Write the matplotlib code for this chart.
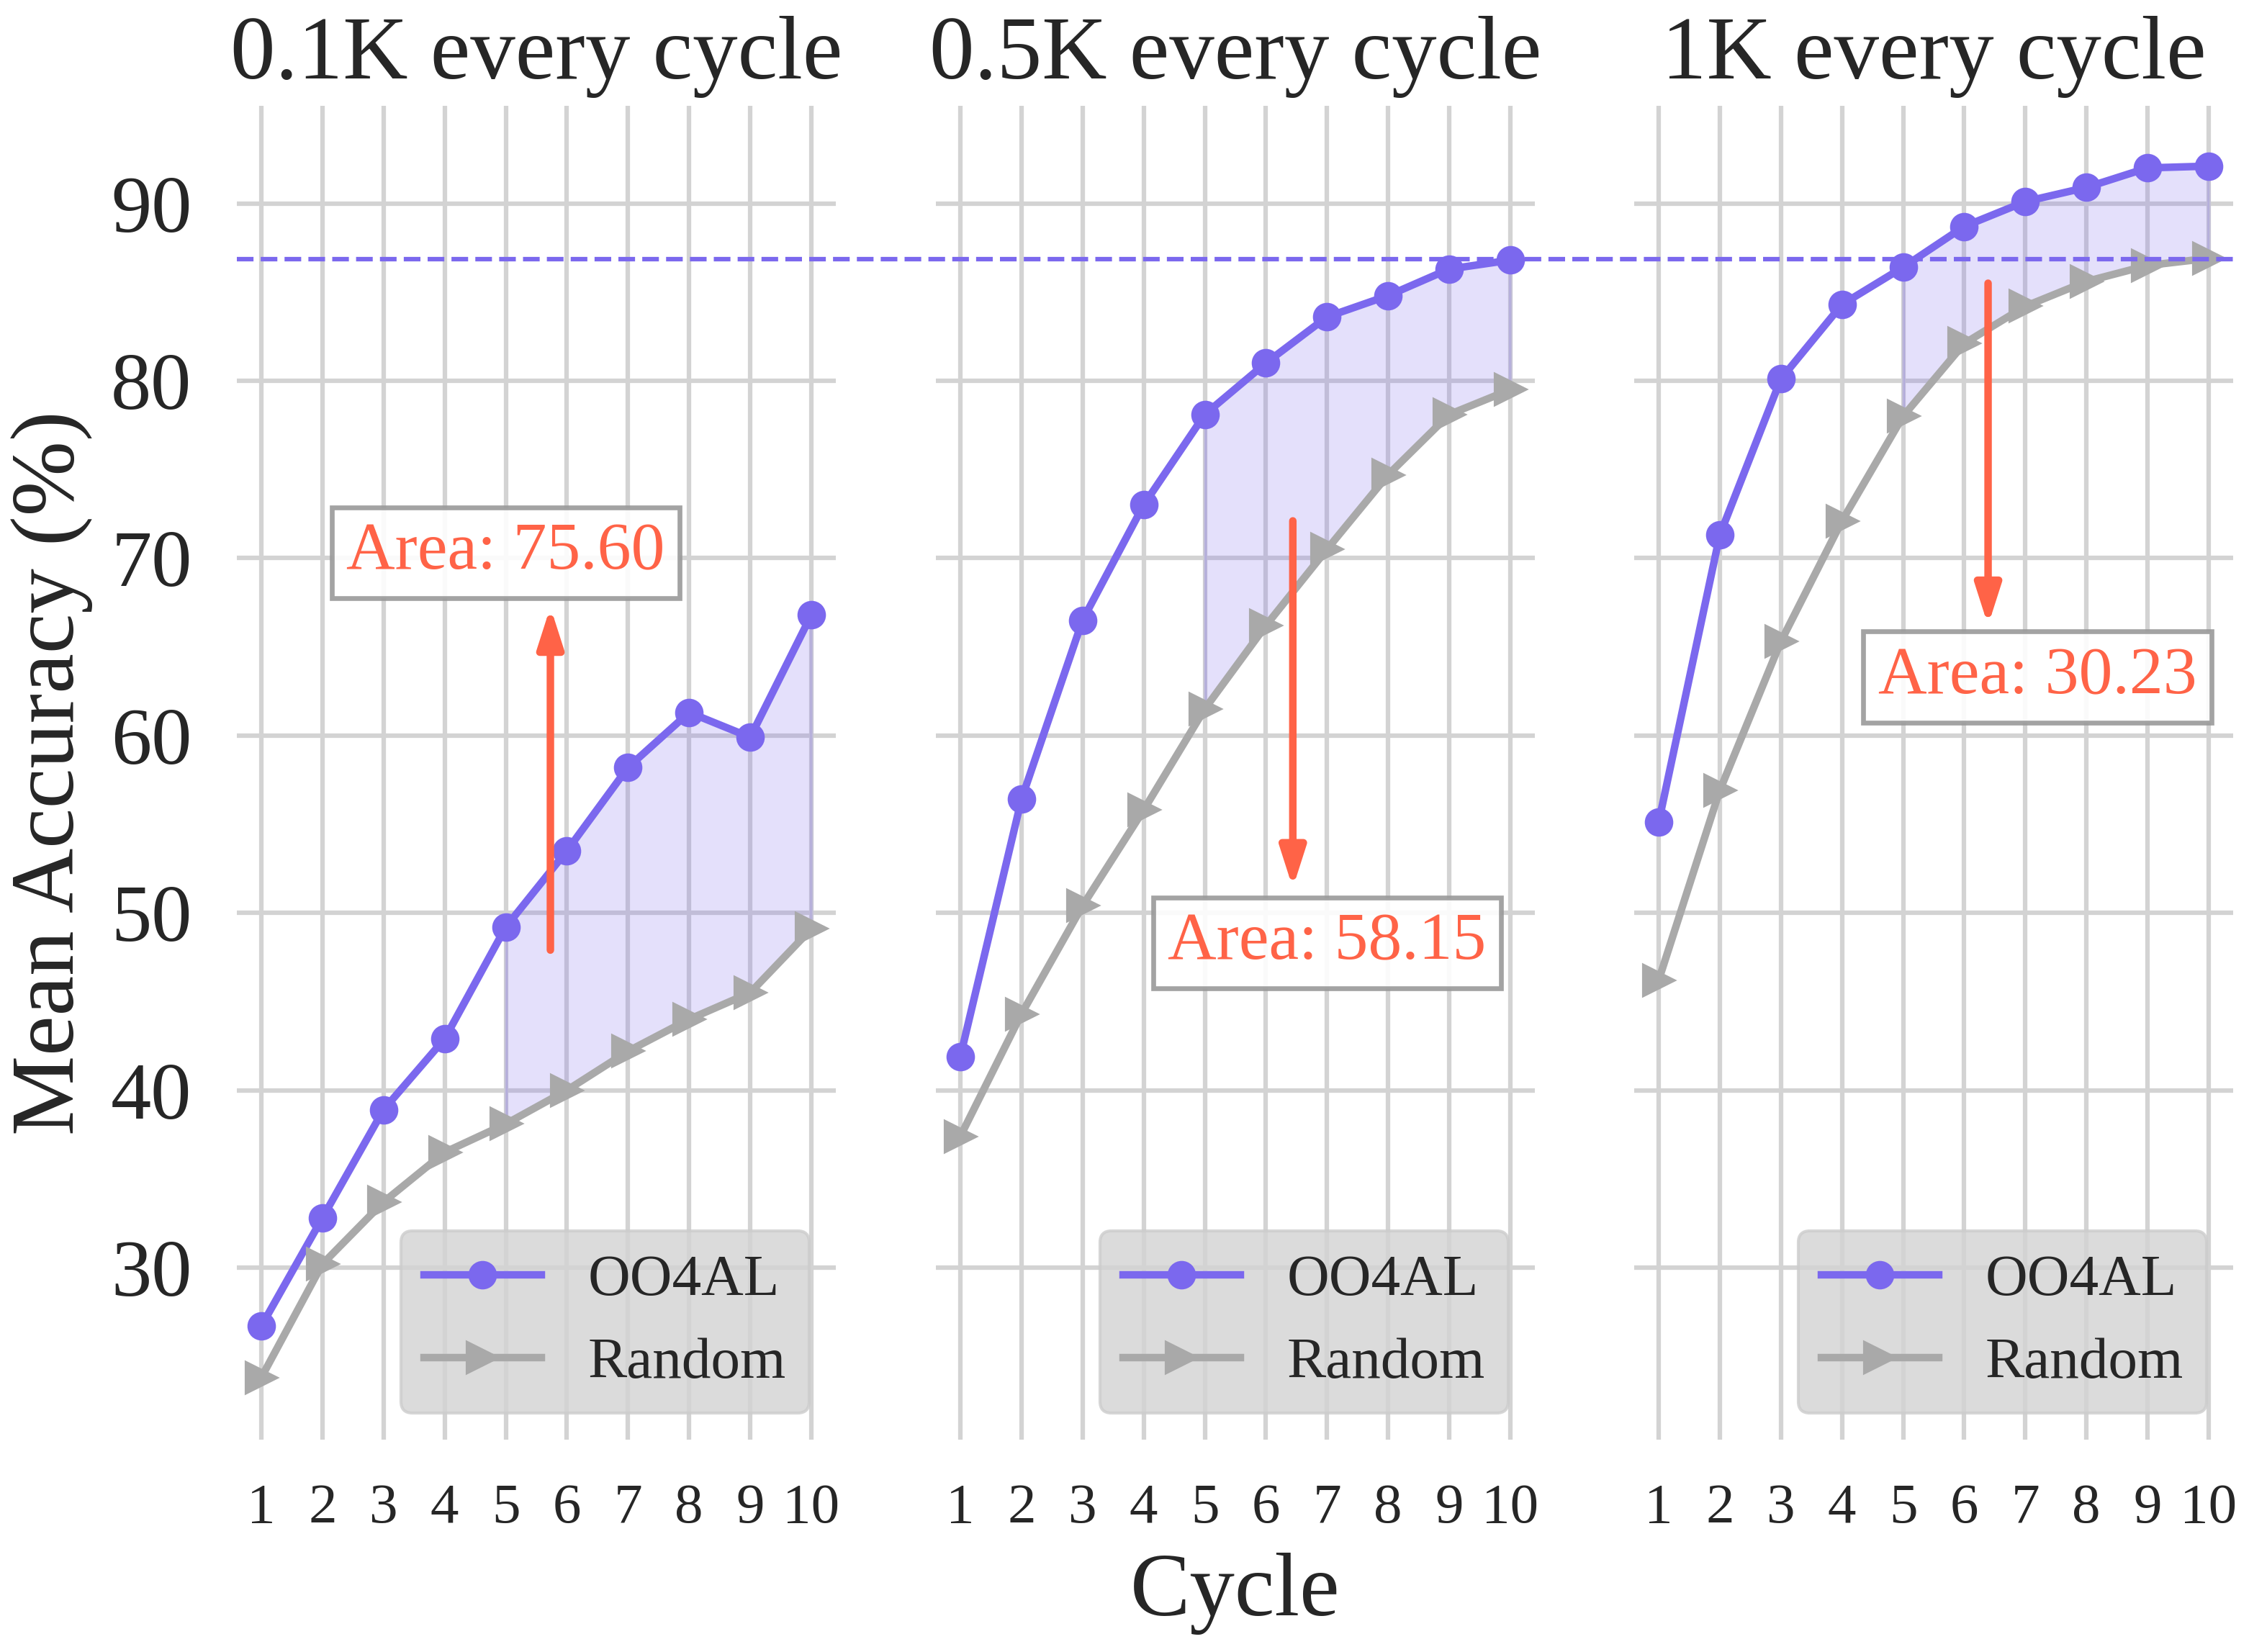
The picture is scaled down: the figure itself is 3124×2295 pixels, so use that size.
import matplotlib
matplotlib.use('Agg')
import matplotlib.pyplot as plt
import matplotlib.transforms as mtransforms
from matplotlib.lines import Line2D

# ---------------- data ----------------
cycles = list(range(1, 11))
titles = ['0.1K every cycle', '0.5K every cycle', '1K every cycle']
oo4al_01k = [26.7, 32.8, 38.9, 42.9, 49.2, 53.5, 58.2, 61.3, 59.9, 66.8]
random_01k = [23.8, 30.2, 33.7, 36.5, 38.1, 40.0, 42.2, 44.0, 45.5, 49.1]
oo4al_05k = [41.9, 56.4, 66.5, 73.0, 78.1, 81.0, 83.6, 84.8, 86.3, 86.8]
random_05k = [37.4, 44.3, 50.4, 55.8, 61.5, 66.2, 70.5, 74.7, 78.1, 79.5]
oo4al_1k = [55.1, 71.3, 80.1, 84.3, 86.4, 88.7, 90.1, 90.9, 92.0, 92.1]
random_1k = [46.2, 56.9, 65.3, 72.1, 78.0, 82.1, 84.2, 85.6, 86.5, 86.9]
area_labels = ['Area: 75.60', 'Area: 58.15', 'Area: 30.23']
ref_level = 86.85
fill_from_cycle = 5
yticks = [30, 40, 50, 60, 70, 80, 90]

oo4al_all = [oo4al_01k, oo4al_05k, oo4al_1k]
random_all = [random_01k, random_05k, random_1k]

# ---------------- style ----------------
plt.rcParams['font.family'] = ['Liberation Serif', 'DejaVu Serif']
plt.rcParams['text.color'] = '#262626'
plt.rcParams['axes.labelcolor'] = '#262626'
plt.rcParams['xtick.color'] = '#262626'
plt.rcParams['ytick.color'] = '#262626'

PURPLE = '#7B68EE'
GRAY = '#A9A9A9'
TOMATO = '#FF6347'
GRID = '#d3d3d3'

fig = plt.figure(figsize=(3124 / 300, 2295 / 300), dpi=300)
W, H = 3124.0, 2295.0
lefts = [329, 1300, 2270]
width = 832
bottom_px, top_px = 2000, 147
axes = []
for i, lp in enumerate(lefts):
    rect = [lp / W, 1 - bottom_px / H, width / W, (bottom_px - top_px) / H]
    ax = fig.add_axes(rect, sharey=axes[0] if axes else None)
    axes.append(ax)

# annotation placements (text center, arrow x, arrow start, arrow end)
ann = [
    dict(tx=5.0, ty=70.3, ax_=5.73, y0=47.9, y1=67.25),
    dict(tx=7.0, ty=48.3, ax_=6.44, y0=72.1, y1=51.4),
    dict(tx=7.2, ty=63.3, ax_=6.39, y0=85.5, y1=66.2),
]

for i, ax in enumerate(axes):
    o = oo4al_all[i]
    r = random_all[i]
    ax.set_facecolor('white')
    for s in ax.spines.values():
        s.set_visible(False)
    ax.grid(True, color=GRID, lw=1.5, zorder=0)
    ax.set_axisbelow(True)

    xs = [c for c in cycles if c >= fill_from_cycle]
    of = [v for c, v in zip(cycles, o) if c >= fill_from_cycle]
    rf = [v for c, v in zip(cycles, r) if c >= fill_from_cycle]
    ax.fill_between(xs, rf, of, color=PURPLE, alpha=0.2, lw=1.0, zorder=1)

    ax.plot(cycles, o, color=PURPLE, lw=2.5, marker='o', ms=8.5, label='OO4AL', zorder=3)
    ax.plot(cycles, r, color=GRAY, lw=2.5, marker='>', ms=10, label='Random', zorder=3)

    a = ann[i]
    ax.annotate('', xy=(a['ax_'], a['y1']), xytext=(a['ax_'], a['y0']),
                arrowprops=dict(arrowstyle='-|>,head_length=0.5,head_width=0.16',
                                color=TOMATO, lw=2.5, mutation_scale=22,
                                shrinkA=0, shrinkB=0), zorder=4)
    ax.text(a['tx'], a['ty'], area_labels[i], color=TOMATO, fontsize=22.5,
            ha='center', va='center', zorder=5,
            bbox=dict(boxstyle='square,pad=0.22', facecolor='white', alpha=0.9,
                      edgecolor='#999999', lw=1.6))

    ax.set_xlim(0.6, 10.4)
    ax.set_xticks(cycles)
    ax.set_xticklabels([str(c) for c in cycles], fontsize=19)
    ax.tick_params(axis='x', length=0, pad=14.5)
    ax.tick_params(axis='y', length=0, pad=15, labelsize=27)
    ax.set_yticks(yticks)
    if i > 0:
        ax.tick_params(axis='y', labelleft=False)
    ax.set_title(titles[i], fontsize=30, pad=9)

    leg = ax.legend(loc='lower right', fontsize=19.5, facecolor='lightgray',
                    edgecolor='#cccccc', framealpha=0.8, borderaxespad=0.45,
                    numpoints=1, handlelength=2.0)
    leg.set_zorder(6)

axes[0].set_ylim(20.3, 95.5)
axes[0].set_ylabel('Mean Accuracy (%)', fontsize=30, labelpad=6)
axes[1].set_xlabel('Cycle', fontsize=30, labelpad=6)

# reference level line spanning all panels
trans = mtransforms.blended_transform_factory(fig.transFigure, axes[0].transData)
line = Line2D([329 / W, 3103 / W], [ref_level, ref_level], transform=trans,
              color=PURPLE, lw=1.5, ls='--', zorder=2)
fig.add_artist(line)

fig.savefig('out.png', dpi=300)
